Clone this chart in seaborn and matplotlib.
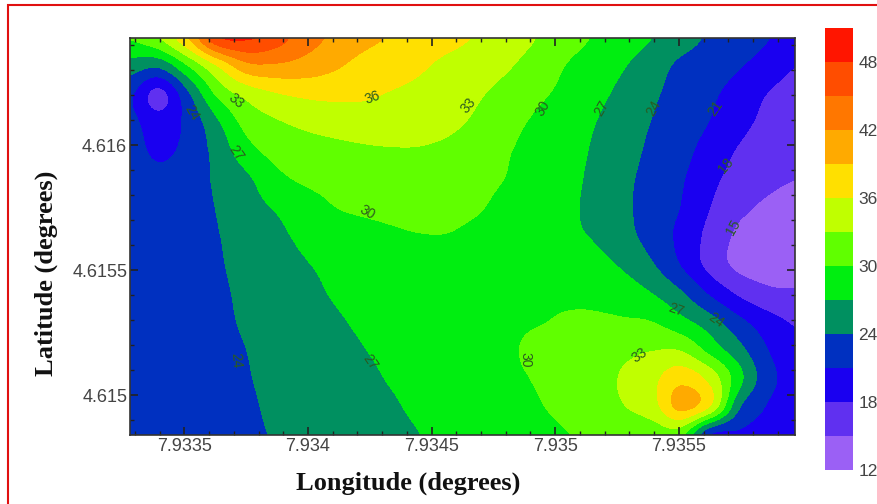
"""Contour map of values over longitude and latitude."""

import matplotlib.pyplot as plt
import matplotlib.colors as mcolors
import numpy as np
import seaborn as sns
from matplotlib.patches import Rectangle
from matplotlib.ticker import AutoMinorLocator

sns.set_theme(style="white")
plt.rcParams["font.family"] = ["Liberation Sans", "DejaVu Sans"]

lon = [7.93328, 7.93339, 7.93351, 7.93363, 7.93375, 7.93386, 7.93398, 7.93410, 7.93422, 7.93433, 7.93445, 7.93457,
       7.93469, 7.93480, 7.93492, 7.93504, 7.93516, 7.93527, 7.93539, 7.93551, 7.93563, 7.93574, 7.93586, 7.93598]
lat = [4.61643, 4.61632, 4.61620, 4.61609, 4.61597, 4.61586, 4.61575, 4.61563,
       4.61552, 4.61540, 4.61529, 4.61518, 4.61506, 4.61495, 4.61484]

row_01 = [30.2, 32.9, 39.0, 47.5, 48.4, 46.5, 43.5, 41.5, 39.8, 38.8, 37.8, 36.8, 35.7, 34.3, 33.0, 31.3, 29.8, 28.4, 27.0, 25.2, 23.6, 22.4, 21.1, 19.5]
row_02 = [25.5, 24.6, 30.0, 36.0, 41.0, 41.5, 40.8, 39.5, 38.1, 37.3, 36.4, 35.2, 34.4, 33.3, 31.8, 30.0, 28.5, 27.2, 25.4, 23.4, 22.4, 21.2, 19.7, 18.0]
row_03 = [21.5, 17.0, 23.5, 30.5, 33.9, 35.7, 36.5, 36.7, 36.5, 35.8, 35.2, 34.3, 33.3, 32.0, 30.6, 29.3, 27.8, 26.3, 24.5, 22.8, 21.5, 19.8, 17.9, 16.6]
row_04 = [21.8, 19.5, 21.8, 26.5, 31.0, 32.6, 33.6, 34.1, 34.3, 34.3, 34.0, 33.5, 32.5, 30.9, 29.6, 28.4, 27.1, 25.6, 23.9, 22.4, 20.9, 18.9, 17.2, 16.4]
row_05 = [22.4, 20.4, 22.0, 25.0, 28.8, 30.9, 31.7, 32.2, 32.6, 32.8, 32.8, 32.4, 31.5, 30.2, 29.2, 28.2, 26.7, 25.2, 23.4, 21.9, 19.8, 17.7, 16.3, 15.8]
row_06 = [23.0, 22.0, 22.9, 24.4, 26.4, 29.1, 30.4, 30.9, 31.4, 31.7, 31.7, 31.4, 30.8, 29.9, 29.0, 27.9, 26.4, 24.7, 23.0, 21.3, 18.8, 16.8, 15.6, 15.0]
row_07 = [23.0, 22.5, 23.2, 24.1, 25.8, 27.2, 28.6, 29.9, 30.4, 30.6, 30.7, 30.6, 30.2, 29.2, 28.5, 27.6, 26.3, 24.6, 22.8, 20.9, 18.0, 15.7, 14.5, 14.0]
row_08 = [23.1, 22.8, 23.4, 23.9, 25.1, 26.3, 27.6, 28.5, 29.1, 29.6, 29.9, 29.9, 29.4, 28.7, 28.2, 27.5, 26.8, 25.0, 22.9, 20.2, 17.1, 14.4, 13.5, 13.2]
row_09 = [23.2, 23.0, 23.4, 23.8, 24.7, 25.7, 26.8, 27.6, 28.1, 28.4, 28.7, 28.9, 28.9, 28.8, 28.6, 28.4, 28.0, 26.6, 24.3, 20.9, 17.0, 14.3, 13.6, 13.4]
row_10 = [23.3, 23.2, 23.4, 23.7, 24.4, 25.2, 26.2, 27.2, 27.9, 28.3, 28.5, 28.8, 29.0, 29.2, 29.4, 29.5, 29.4, 28.6, 27.0, 24.4, 20.6, 17.5, 15.7, 15.4]
row_11 = [23.4, 23.3, 23.5, 23.7, 24.2, 24.9, 25.7, 26.6, 27.4, 27.9, 28.2, 28.6, 29.0, 29.4, 29.8, 30.3, 30.4, 30.3, 30.0, 27.9, 25.3, 21.8, 19.2, 17.6]
row_12 = [23.5, 23.5, 23.6, 23.7, 24.0, 24.7, 25.4, 26.1, 26.9, 27.6, 28.0, 28.5, 29.0, 29.5, 30.8, 31.4, 31.9, 32.3, 32.9, 32.8, 29.0, 25.0, 21.0, 19.0]
row_13 = [23.6, 23.6, 23.6, 23.7, 23.9, 24.5, 25.1, 25.8, 26.4, 27.2, 27.8, 28.3, 28.9, 29.4, 30.2, 31.0, 32.0, 33.3, 35.2, 38.0, 35.0, 28.0, 22.0, 20.0]
row_14 = [23.7, 23.6, 23.7, 23.7, 23.8, 24.3, 24.9, 25.4, 26.0, 26.7, 27.5, 28.0, 28.6, 29.1, 29.8, 30.6, 31.8, 32.9, 34.8, 40.0, 36.0, 24.5, 20.8, 20.0]
row_15 = [23.7, 23.7, 23.7, 23.7, 23.8, 24.1, 24.6, 25.1, 25.7, 26.3, 27.0, 27.6, 28.2, 28.8, 29.4, 29.9, 30.6, 31.0, 31.2, 31.0, 21.0, 20.5, 20.2, 20.0]

levels = [12, 15, 18, 21, 24, 27, 30, 33, 36, 39, 42, 45, 48, 51]
level_colors = ["#9b60f5", "#6030f0", "#1a00f0", "#0030c0", "#009060", "#00ee10", "#60ff00",
                "#c0ff00", "#ffe000", "#ffaa00", "#ff7700", "#ff4d00", "#ff1500"]
bar_ticks = [12, 18, 24, 30, 36, 42, 48]

lon_ticks = [7.9335, 7.934, 7.9345, 7.935, 7.9355]
lon_tick_labels = ["7.9335", "7.934", "7.9345", "7.935", "7.9355"]
lat_ticks = [4.615, 4.6155, 4.616]
lat_tick_labels = ["4.615", "4.6155", "4.616"]

label_text = ["33", "24", "27", "36", "33", "30", "27", "24", "21", "18", "15", "30", "24", "27", "30", "33", "27", "24"]
label_lon = [7.93371, 7.93353, 7.93371, 7.93426, 7.93465, 7.93495, 7.93519, 7.93540, 7.93565,
             7.93569, 7.93572, 7.93424, 7.93371, 7.93425, 7.93488, 7.93534, 7.93549, 7.93565]
label_lat = [4.61618, 4.61613, 4.61597, 4.61619, 4.61616, 4.61615, 4.61615, 4.61615, 4.61615,
             4.61592, 4.61567, 4.61573, 4.61514, 4.61513, 4.61514, 4.61516, 4.61534, 4.61530]
label_rot = [-40, -60, -55, 20, 50, 60, 60, 60, 55, 50, 60, -30, -85, -55, -90, 35, -20, -35]

W, H = 878, 504
values = np.array([row_01, row_02, row_03, row_04, row_05, row_06, row_07, row_08,
                   row_09, row_10, row_11, row_12, row_13, row_14, row_15])

cmap = mcolors.ListedColormap(sns.color_palette(level_colors))
norm = mcolors.BoundaryNorm(levels, cmap.N)

fig = plt.figure(figsize=(W / 100, H / 100), dpi=100)
ax = fig.add_axes([130 / W, 1 - 435 / H, 665 / W, 397 / H])
cax = fig.add_axes([825 / W, 1 - 470 / H, 28 / W, 442 / H])

# catrom on the data side, then binned by the norm, gives smooth filled bands
half_x = (lon[-1] - lon[0]) / (len(lon) - 1) / 2
half_y = (lat[0] - lat[-1]) / (len(lat) - 1) / 2
filled = ax.imshow(values, cmap=cmap, norm=norm, aspect="auto", origin="upper",
                   interpolation="catrom", interpolation_stage="data",
                   extent=(lon[0] - half_x, lon[-1] + half_x, lat[-1] - half_y, lat[0] + half_y))
ax.set_xlim(7.93328, 7.93597)
ax.set_ylim(4.61484, 4.61643)

for text, x, y, rot in zip(label_text, label_lon, label_lat, label_rot):
    ax.text(x, y, text, fontsize=10, color="#2a5a20", rotation=rot, ha="center", va="center")

ax.set_xticks(lon_ticks, lon_tick_labels)
ax.set_yticks(lat_ticks, lat_tick_labels)
ax.xaxis.set_minor_locator(AutoMinorLocator(5))
ax.yaxis.set_minor_locator(AutoMinorLocator(5))
ax.tick_params(which="major", direction="in", length=6, width=1.2, color="#222222", top=True, right=True,
               bottom=True, left=True, labelsize=13, labelcolor="#444444")
ax.tick_params(which="minor", direction="in", length=3, width=1, color="#222222", top=True, right=True,
               bottom=True, left=True)
ax.tick_params(axis="x", which="major", pad=2)
ax.tick_params(axis="y", which="major", pad=2)
for spine in ax.spines.values():
    spine.set_color("#333333")
    spine.set_linewidth(1.2)

ax.set_xlabel("Longitude (degrees)", family="Liberation Serif", fontweight="bold", fontsize=19, color="#111111")
ax.set_ylabel("Latitude (degrees)", family="Liberation Serif", fontweight="bold", fontsize=19, color="#111111")
ax.xaxis.set_label_coords(278 / 665, -37 / 397)
ax.yaxis.set_label_coords(-72 / 665, 162 / 397)

bar = fig.colorbar(filled, cax=cax, ticks=bar_ticks, drawedges=False, spacing="proportional")
bar.outline.set_visible(False)
bar.ax.minorticks_off()
bar.ax.tick_params(which="both", length=0, labelsize=12.5, labelcolor="#444444", pad=4)

fig.add_artist(Rectangle((8 / W, -10 / H), (W + 20) / W, (H + 5) / H, transform=fig.transFigure,
                         fill=False, edgecolor="#e01010", linewidth=1.5))

fig.savefig("out.png", dpi=100)
